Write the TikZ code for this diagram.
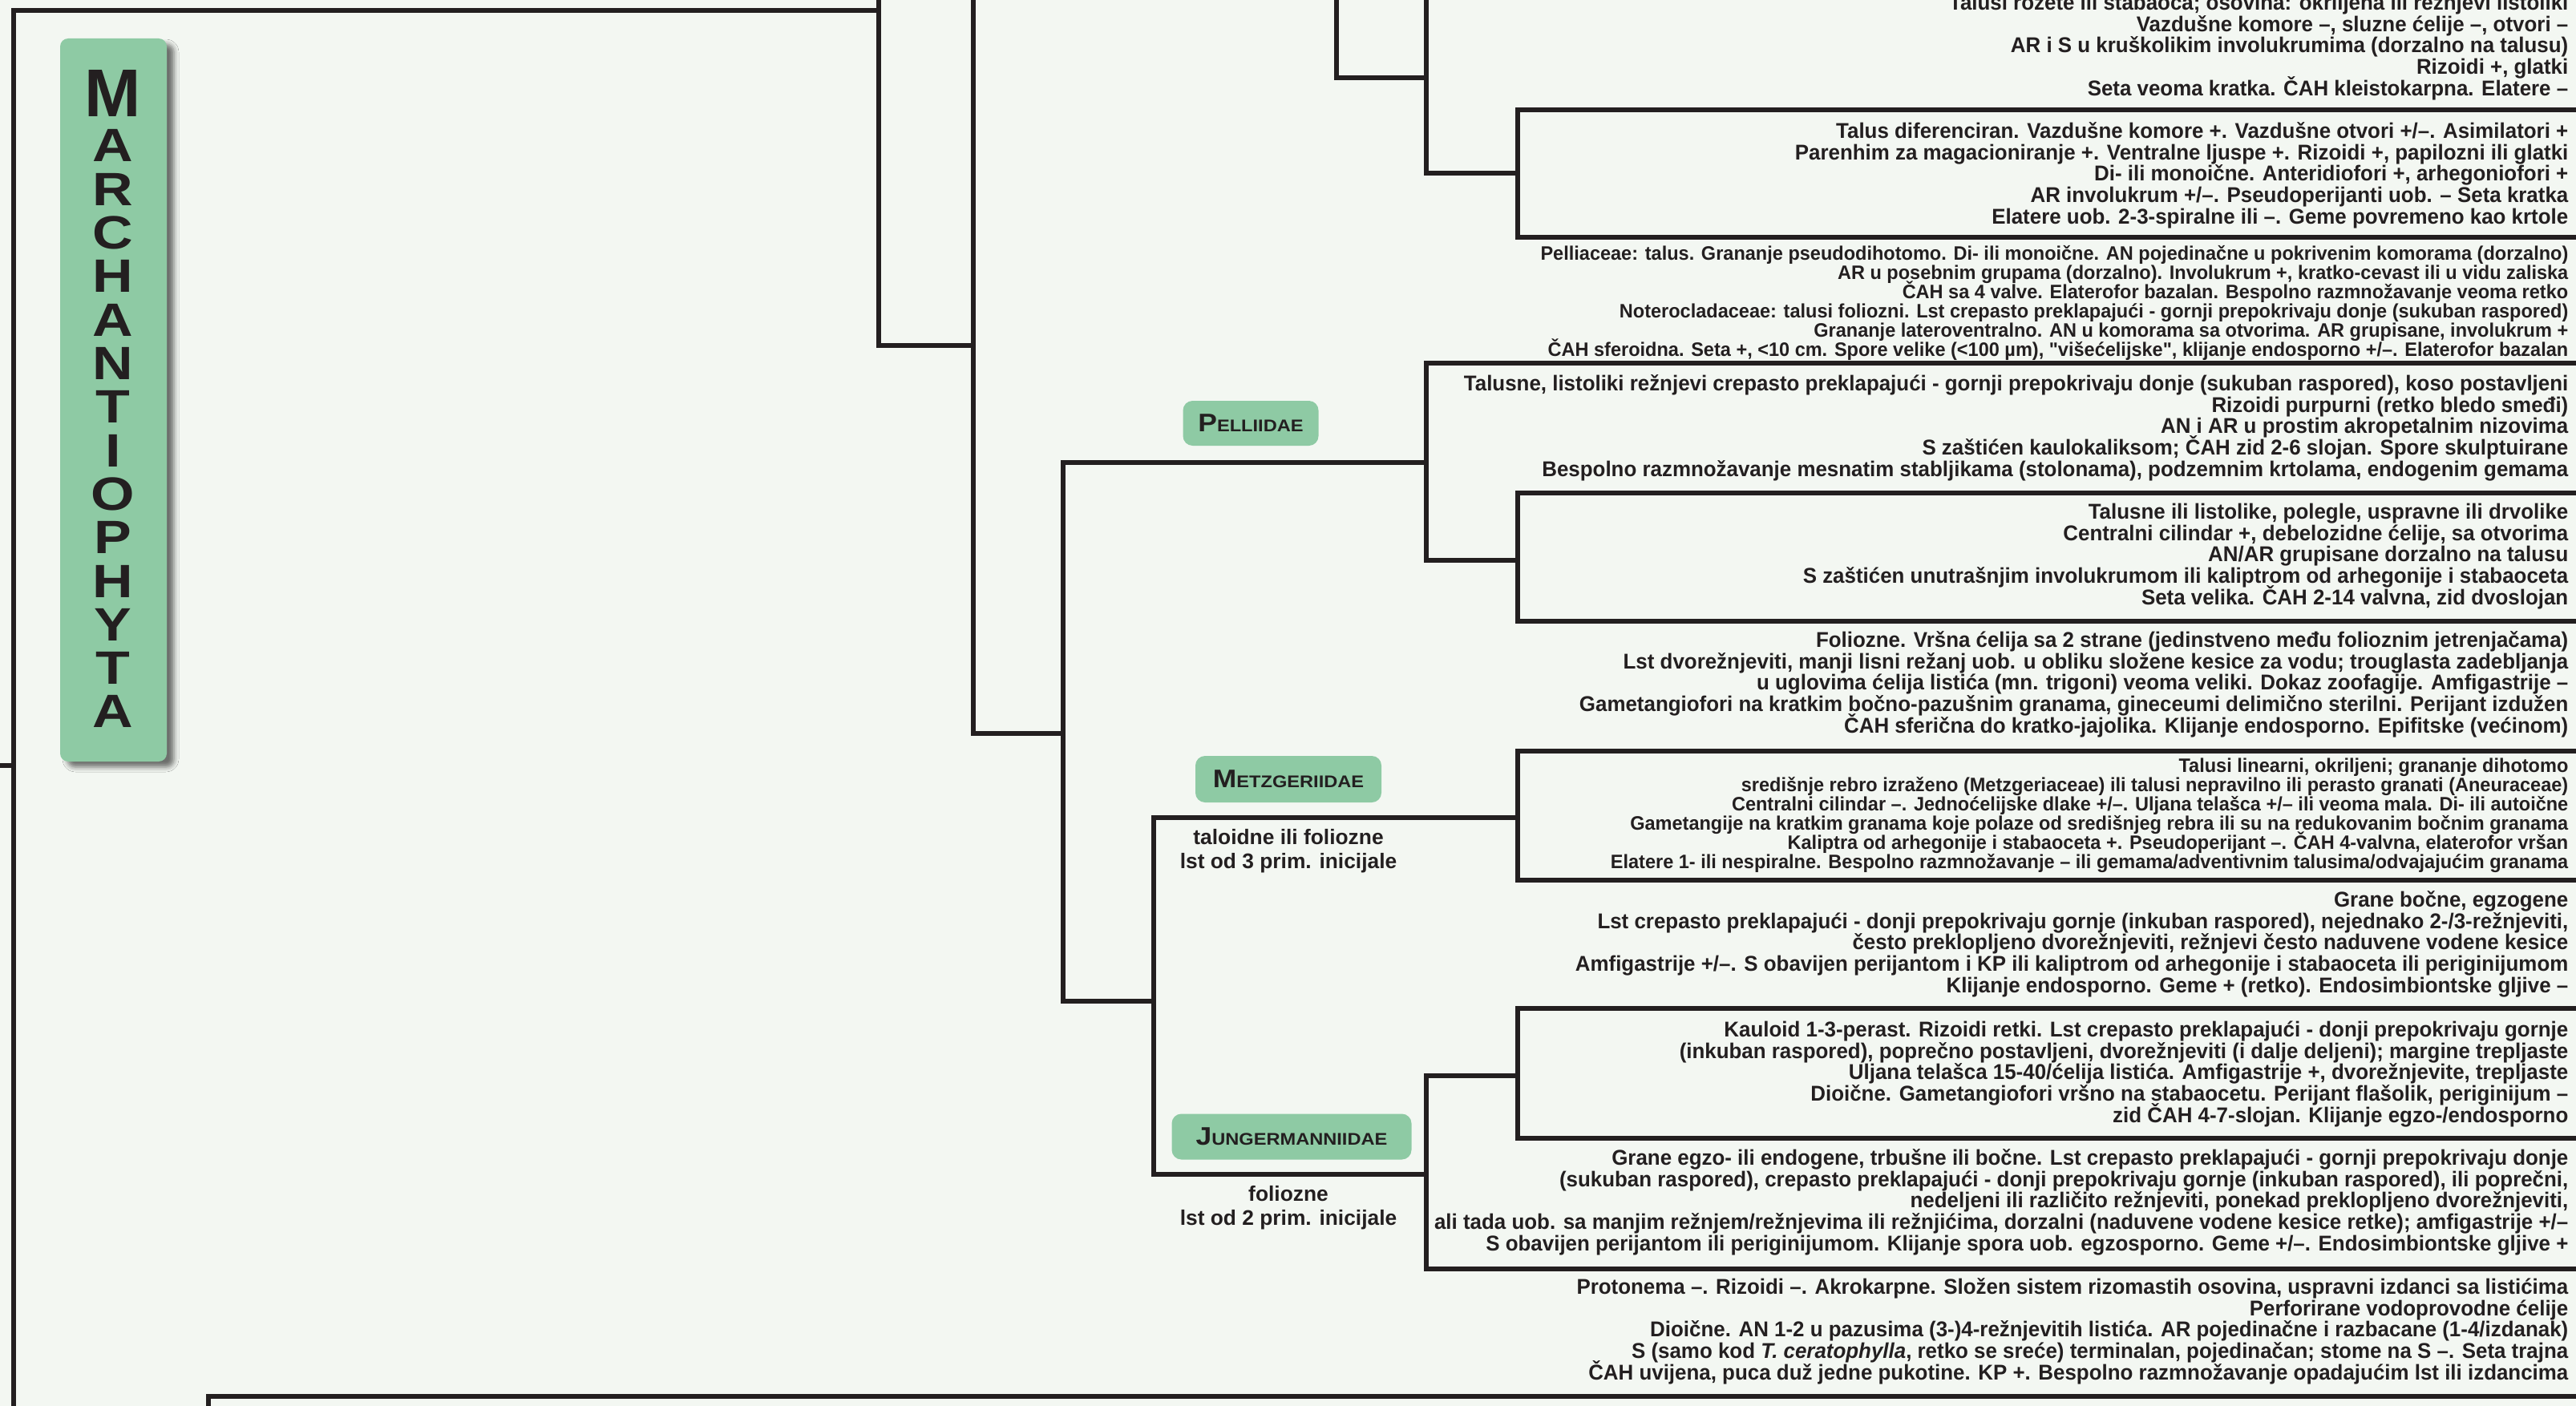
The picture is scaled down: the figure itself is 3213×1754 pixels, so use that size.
\documentclass[tikz,border=0pt]{standalone}
\usepackage{fontspec}
\setmainfont{Liberation Sans}
\newfontfamily\descfont[FakeStretch=0.97]{Liberation Sans}
\newfontfamily\capsfont[FakeStretch=1.12]{Liberation Sans}
\newfontfamily\widefont[FakeStretch=1.2]{Liberation Sans}
\usetikzlibrary{shadows.blur}
\definecolor{paper}{RGB}{243,247,242}
\definecolor{ink}{RGB}{35,31,32}
\definecolor{leaf}{RGB}{142,202,164}
\def\descbig{\descfont\bfseries\fontsize{7.6}{7.57}\selectfont\lineskiplimit=-20pt\relax}
\def\descsmall{\descfont\bfseries\fontsize{6.9}{6.8}\selectfont\lineskiplimit=-20pt\relax}
\def\firstln{\rule{0pt}{7.3pt}}
\newcommand{\capname}[2]{{\fontsize{9}{10}\selectfont #1}{\fontsize{6}{7}\selectfont #2}}
\tikzset{
  branch/.style={line width=0.65mm, draw=ink},
  desc/.style={anchor=north east, align=right, inner sep=0pt, text=ink, font=\descbig},
  descs/.style={desc, font=\descsmall},
  taxon/.style={fill=leaf, rounded corners=1.2mm, inner sep=0pt, text=ink, font=\capsfont\bfseries},
  note/.style={align=center, inner sep=0pt, text=ink, font=\bfseries\fontsize{7.5}{8.5}\selectfont},
  letter/.style={anchor=base, inner sep=0pt, text=ink, font=\widefont\bfseries\fontsize{16.6}{18}\selectfont},
}

\begin{document}
\begin{tikzpicture}[x=0.1mm, y=-0.1mm]
  \useasboundingbox (0,0) rectangle (3213,1754);
  \fill[paper] (0,0) rectangle (3213,1754);
  \clip (0,0) rectangle (3213,1754);

  % edges of the sheet
  \coordinate (sky) at (-20,-20);
  \coordinate (floor) at (0,1775);
  \coordinate (rim) at (3230,0);

  % junctions of the tree
  \coordinate (root)  at (17,955);
  \coordinate (marc)  at (1096,13);
  \coordinate (hepA)  at (1096,431);
  \coordinate (hepB)  at (1214,915);
  \coordinate (pel)   at (1326,577);
  \coordinate (jm)    at (1326,1249);
  \coordinate (metz)  at (1439,1020);
  \coordinate (jung)  at (1439,1465);
  \coordinate (marA)  at (1667,97);
  \coordinate (marB)  at (1779,216);
  \coordinate (marbT) at (1893,137);
  \coordinate (marbB) at (1893,296);
  \coordinate (pelT)  at (1779,453);
  \coordinate (pelB)  at (1779,699);
  \coordinate (pelbT) at (1893,615);
  \coordinate (pelbB) at (1893,775);
  \coordinate (metT)  at (1893,937);
  \coordinate (metB)  at (1893,1098);
  \coordinate (junT)  at (1779,1342);
  \coordinate (junB)  at (1779,1583);
  \coordinate (junbT) at (1893,1258);
  \coordinate (junbB) at (1893,1420);
  \coordinate (moss)  at (260,1742);

  \draw[branch] (root -| sky) -- (root);
  \draw[branch] (root |- floor) |- (marc);
  \draw[branch] (marc |- sky) -- (hepA) -- (hepA -| hepB);
  \draw[branch] (hepB |- sky) -- (hepB) -- (hepB -| pel);
  \draw[branch] (pel -| pelT) -- (pel) -- (jm) -- (jm -| metz);
  \draw[branch] (marA |- sky) -- (marA) -- (marA -| marB);
  \draw[branch] (marB |- sky) -- (marB) -- (marB -| marbT);
  \draw[branch] (marbT -| rim) -- (marbT) -- (marbB) -- (marbB -| rim);
  \draw[branch] (pelT -| rim) -- (pelT) -- (pelB) -- (pelB -| pelbT);
  \draw[branch] (pelbT -| rim) -- (pelbT) -- (pelbB) -- (pelbB -| rim);
  \draw[branch] (metz -| metT) -- (metz) -- (jung) -- (jung -| junT);
  \draw[branch] (metT -| rim) -- (metT) -- (metB) -- (metB -| rim);
  \draw[branch] (junT -| junbT) -- (junT) -- (junB) -- (junB -| rim);
  \draw[branch] (junbT -| rim) -- (junbT) -- (junbB) -- (junbB -| rim);
  \draw[branch] (moss |- floor) -- (moss) -- (moss -| rim);

  % phylum
  \node[taxon, rounded corners=1mm, minimum width=13.3mm, minimum height=90.2mm,
        blur shadow={shadow xshift=0.9mm, shadow yshift=-0.7mm, shadow blur radius=0.6mm, shadow opacity=55}]
        (phylum) at (141.5,499) {};
  \node[letter, font=\bfseries\fontsize{24}{26}\selectfont] (M) at (141,146) {M};
  \foreach \l [count=\i] in {A,R,C,H,A,N,T,I,O,P,H,Y,T,A}
    \node[letter] (l\i) at (141,{202+(\i-1)*54.3}) {\l};

  % subclasses
  \node[taxon, minimum width=16.9mm, minimum height=5.6mm] (pelliidae) at (1560,528) {\capname{P}{ELLIIDAE}};
  \node[taxon, minimum width=23.2mm, minimum height=5.8mm] (metzgeriidae) at (1607,972) {\capname{M}{ETZGERIIDAE}};
  \node[taxon, minimum width=29.9mm, minimum height=5.7mm] (jungermanniidae) at (1611,1418) {\capname{J}{UNGERMANNIIDAE}};
  \node[note] (metznote) at (1607,1062) {taloidne ili foliozne\\lst od 3 prim. inicijale};
  \node[note] (jungnote) at (1607,1507) {foliozne\\lst od 2 prim. inicijale};

  % descriptions
  \node[desc] (txtA) at (3204,-13.7) {\firstln Talusi rozete ili stabaoca; osovina: okriljena ili režnjevi listoliki\\
    Vazdušne komore –, sluzne ćelije –, otvori –\\
    AR i S u kruškolikim involukrumima (dorzalno na talusu)\\
    Rizoidi +, glatki\\
    Seta veoma kratka. ČAH kleistokarpna. Elatere –};
  \node[desc] (txtB) at (3204,146.3) {\firstln Talus diferenciran. Vazdušne komore +. Vazdušne otvori +/–. Asimilatori +\\
    Parenhim za magacioniranje +. Ventralne ljuspe +. Rizoidi +, papilozni ili glatki\\
    Di- ili monoične. Anteridiofori +, arhegoniofori +\\
    AR involukrum +/–. Pseudoperijanti uob. – Seta kratka\\
    Elatere uob. 2-3-spiralne ili –. Geme povremeno kao krtole};
  \node[descs] (txtC) at (3204,298.3) {\firstln Pelliaceae: talus. Grananje pseudodihotomo. Di- ili monoične. AN pojedinačne u pokrivenim komorama (dorzalno)\\
    AR u posebnim grupama (dorzalno). Involukrum +, kratko-cevast ili u vidu zaliska\\
    ČAH sa 4 valve. Elaterofor bazalan. Bespolno razmnožavanje veoma retko\\
    Noterocladaceae: talusi foliozni. Lst crepasto preklapajući - gornji prepokrivaju donje (sukuban raspored)\\
    Grananje lateroventralno. AN u komorama sa otvorima. AR grupisane, involukrum +\\
    ČAH sferoidna. Seta +, <10 cm. Spore velike (<100 µm), "višećelijske", klijanje endosporno +/–. Elaterofor bazalan};
  \node[desc] (txtD) at (3204,461.3) {\firstln Talusne, listoliki režnjevi crepasto preklapajući - gornji prepokrivaju donje (sukuban raspored), koso postavljeni\\
    Rizoidi purpurni (retko bledo smeđi)\\
    AN i AR u prostim akropetalnim nizovima\\
    S zaštićen kaulokaliksom; ČAH zid 2-6 slojan. Spore skulptuirane\\
    Bespolno razmnožavanje mesnatim stabljikama (stolonama), podzemnim krtolama, endogenim gemama};
  \node[desc] (txtE) at (3204,621.3) {\firstln Talusne ili listolike, polegle, uspravne ili drvolike\\
    Centralni cilindar +, debelozidne ćelije, sa otvorima\\
    AN/AR grupisane dorzalno na talusu\\
    S zaštićen unutrašnjim involukrumom ili kaliptrom od arhegonije i stabaoceta\\
    Seta velika. ČAH 2-14 valvna, zid dvoslojan};
  \node[desc] (txtF) at (3204,781.3) {\firstln Foliozne. Vršna ćelija sa 2 strane (jedinstveno među folioznim jetrenjačama)\\
    Lst dvorežnjeviti, manji lisni režanj uob. u obliku složene kesice za vodu; trouglasta zadebljanja\\
    u uglovima ćelija listića (mn. trigoni) veoma veliki. Dokaz zoofagije. Amfigastrije –\\
    Gametangiofori na kratkim bočno-pazušnim granama, gineceumi delimično sterilni. Perijant izdužen\\
    ČAH sferična do kratko-jajolika. Klijanje endosporno. Epifitske (većinom)};
  \node[descs] (txtG) at (3204,937.3) {\firstln Talusi linearni, okriljeni; grananje dihotomo\\
    središnje rebro izraženo (Metzgeriaceae) ili talusi nepravilno ili perasto granati (Aneuraceae)\\
    Centralni cilindar –. Jednoćelijske dlake +/–. Uljana telašca +/– ili veoma mala. Di- ili autoične\\
    Gametangije na kratkim granama koje polaze od središnjeg rebra ili su na redukovanim bočnim granama\\
    Kaliptra od arhegonije i stabaoceta +. Pseudoperijant –. ČAH 4-valvna, elaterofor vršan\\
    Elatere 1- ili nespiralne. Bespolno razmnožavanje – ili gemama/adventivnim talusima/odvajajućim granama};
  \node[desc] (txtH) at (3204,1105.3) {\firstln Grane bočne, egzogene\\
    Lst crepasto preklapajući - donji prepokrivaju gornje (inkuban raspored), nejednako 2-/3-režnjeviti,\\
    često preklopljeno dvorežnjeviti, režnjevi često naduvene vodene kesice\\
    Amfigastrije +/–. S obavijen perijantom i KP ili kaliptrom od arhegonije i stabaoceta ili periginijumom\\
    Klijanje endosporno. Geme + (retko). Endosimbiontske gljive –};
  \node[desc] (txtI) at (3204,1267.3) {\firstln Kauloid 1-3-perast. Rizoidi retki. Lst crepasto preklapajući - donji prepokrivaju gornje\\
    (inkuban raspored), poprečno postavljeni, dvorežnjeviti (i dalje deljeni); margine trepljaste\\
    Uljana telašca 15-40/ćelija listića. Amfigastrije +, dvorežnjevite, trepljaste\\
    Dioične. Gametangiofori vršno na stabaocetu. Perijant flašolik, periginijum –\\
    zid ČAH 4-7-slojan. Klijanje egzo-/endosporno};
  \node[desc] (txtJ) at (3204,1427.3) {\firstln Grane egzo- ili endogene, trbušne ili bočne. Lst crepasto preklapajući - gornji prepokrivaju donje\\
    (sukuban raspored), crepasto preklapajući - donji prepokrivaju gornje (inkuban raspored), ili poprečni,\\
    nedeljeni ili različito režnjeviti, ponekad preklopljeno dvorežnjeviti,\\
    ali tada uob. sa manjim režnjem/režnjevima ili režnjićima, dorzalni (naduvene vodene kesice retke); amfigastrije +/–\\
    S obavijen perijantom ili periginijumom. Klijanje spora uob. egzosporno. Geme +/–. Endosimbiontske gljive +};
  \node[desc] (txtK) at (3204,1588.3) {\firstln Protonema –. Rizoidi –. Akrokarpne. Složen sistem rizomastih osovina, uspravni izdanci sa listićima\\
    Perforirane vodoprovodne ćelije\\
    Dioične. AN 1-2 u pazusima (3-)4-režnjevitih listića. AR pojedinačne i razbacane (1-4/izdanak)\\
    S (samo kod \textit{T. ceratophylla}, retko se sreće) terminalan, pojedinačan; stome na S –. Seta trajna\\
    ČAH uvijena, puca duž jedne pukotine. KP +. Bespolno razmnožavanje opadajućim lst ili izdancima};
\end{tikzpicture}
\end{document}
